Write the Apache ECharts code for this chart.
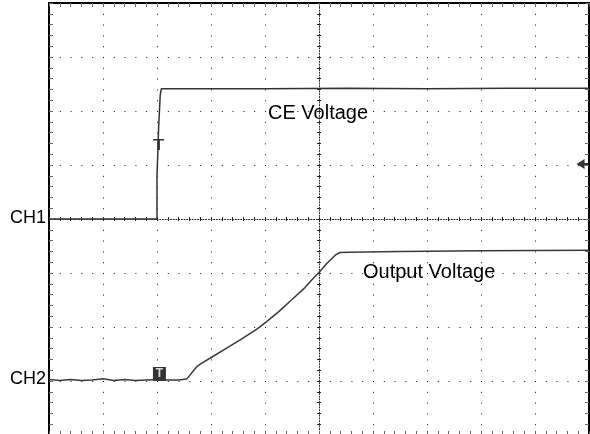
<!DOCTYPE html>
<html>
<head>
<meta charset="utf-8">
<script src="https://cdn.jsdelivr.net/npm/echarts@6/dist/echarts.min.js"></script>
<style>
  html, body { margin: 0; padding: 0; background: #fff; }
  #chart { width: 590px; height: 434px; }
</style>
</head>
<body>
<div id="chart"></div>
<script>
// screen units are divisions: 10 across, 8 high, ground of CH1 at 0
const xRange = [-5, 5]
const yRange = [-4, 4]

// CE Voltage (CH1)
const ceX = [-5, -4, -3.5, -3.0, -3.0, -2.97, -2.97, -2.94, -2.94, -2.92, -2.5, -1, 0.5, 2, 3.5, 5]
const ceY = [0, 0, 0, 0, 0.78, 0.78, 1.69, 1.69, 2.30, 2.41, 2.41, 2.41, 2.42, 2.41, 2.42, 2.42]

// Output Voltage (CH2)
const outX = [-5, -4.8, -4.6, -4.4, -4.2, -4.0, -3.8, -3.6, -3.4, -3.2, -3.0, -2.8, -2.6, -2.45,
  -2.265, -2.17, -1.99, -1.71, -1.43, -1.15, -0.97, -0.75, -0.51, -0.26, -0.135, 0.0,
  0.14, 0.30, 0.39, 0.57, 1.5, 3, 5]
const outY = [-2.97, -2.99, -2.97, -2.99, -2.98, -2.96, -2.99, -2.97, -2.99, -2.98, -2.97, -2.98, -2.98, -2.965,
  -2.735, -2.67, -2.56, -2.39, -2.22, -2.04, -1.90, -1.72, -1.50, -1.27, -1.13, -0.99,
  -0.83, -0.67, -0.62, -0.615, -0.60, -0.59, -0.58]

// scope markers
const trigCross = [-2.97, 1.38]
const trigBox = [-2.955, -2.87]
const trigLevel = [4.89, 1.02]

const labelFont = 'Liberation Sans, Arial, sans-serif'

const chart = echarts.init(document.getElementById('chart'))

const baseX = {
  type: 'value', min: xRange[0], max: xRange[1], interval: 1,
  axisLabel: { show: false }, splitLine: { show: false }, axisLine: { show: false }
}
const baseY = {
  type: 'value', min: yRange[0], max: yRange[1], interval: 1,
  axisLabel: { show: false }, splitLine: { show: false }, axisLine: { show: false }
}
const edgeTick = { show: true, inside: true, length: 4, lineStyle: { color: '#666' } }
const edgeMinor = { show: true, splitNumber: 5, length: 4, lineStyle: { color: '#666' } }
const centerTick = { show: true, inside: false, length: 2, lineStyle: { color: '#222' } }
const centerMinor = { show: true, splitNumber: 5, length: 2, lineStyle: { color: '#222' } }
const centerLine = { show: true, onZero: true, lineStyle: { color: '#222', width: 1, type: [1, 1.7] } }
const gridDots = { show: true, lineStyle: { color: '#111', width: 1, type: [1, 9.8] } }

const toPairs = (xs, ys) => xs.map((x, i) => [x, ys[i]])

chart.setOption({
  animation: false,
  grid: {
    left: 49, top: 3, width: 540, height: 432,
    outerBoundsMode: 'none',
    show: true, borderColor: '#000', borderWidth: 2, backgroundColor: 'transparent'
  },
  xAxis: [
    { ...baseX, position: 'bottom', axisLine: { show: false, onZero: false }, splitLine: gridDots, axisTick: edgeTick, minorTick: edgeMinor },
    { ...baseX, position: 'top', axisLine: { show: false, onZero: false }, axisTick: edgeTick, minorTick: edgeMinor },
    { ...baseX, position: 'bottom', axisLine: centerLine, axisTick: centerTick, minorTick: centerMinor },
    { ...baseX, position: 'top', axisLine: { show: false, onZero: true }, axisTick: centerTick, minorTick: centerMinor }
  ],
  yAxis: [
    { ...baseY, position: 'left', axisLine: { show: false, onZero: false }, splitLine: gridDots, axisTick: edgeTick, minorTick: edgeMinor },
    { ...baseY, position: 'right', axisLine: { show: false, onZero: false }, axisTick: edgeTick, minorTick: edgeMinor },
    { ...baseY, position: 'left', axisLine: centerLine, axisTick: centerTick, minorTick: centerMinor },
    { ...baseY, position: 'right', axisLine: { show: false, onZero: true }, axisTick: centerTick, minorTick: centerMinor }
  ],
  series: [
    {
      name: 'CE Voltage', type: 'line', showSymbol: false, silent: true,
      data: toPairs(ceX, ceY),
      lineStyle: { color: '#333', width: 1.5 }
    },
    {
      name: 'Output Voltage', type: 'line', showSymbol: false, silent: true,
      data: toPairs(outX, outY),
      lineStyle: { color: '#3a3a3a', width: 1.5 }
    },
    {
      type: 'scatter', silent: true,
      data: [trigCross],
      symbol: 'path://M0,0H11V1.5H6.8V11H4.2V1.5H0Z', symbolSize: [11, 11],
      itemStyle: { color: '#000' }
    },
    {
      type: 'scatter', silent: true,
      data: [trigBox],
      symbol: 'rect', symbolSize: [13, 14],
      itemStyle: { color: '#000' },
      label: { show: true, position: 'inside', formatter: 'T', color: '#fff', fontWeight: 'bold', fontSize: 12, fontFamily: labelFont }
    },
    {
      type: 'scatter', silent: true,
      data: [trigLevel],
      symbol: 'path://M0,5L8,0V4H13V6H8V10Z', symbolSize: [13, 10],
      itemStyle: { color: '#000' }
    }
  ],
  graphic: [
    { type: 'text', right: 590 - 46, top: 219 - 10, style: { text: 'CH1', font: '18px ' + labelFont, fill: '#000' } },
    { type: 'text', right: 590 - 46, top: 380 - 10, style: { text: 'CH2', font: '18px ' + labelFont, fill: '#000' } },
    { type: 'text', left: 268, top: 114 - 11, style: { text: 'CE Voltage', font: '20px ' + labelFont, fill: '#000' } },
    { type: 'text', left: 363, top: 273 - 11, style: { text: 'Output Voltage', font: '20px ' + labelFont, fill: '#000' } }
  ]
})
</script>
</body>
</html>
